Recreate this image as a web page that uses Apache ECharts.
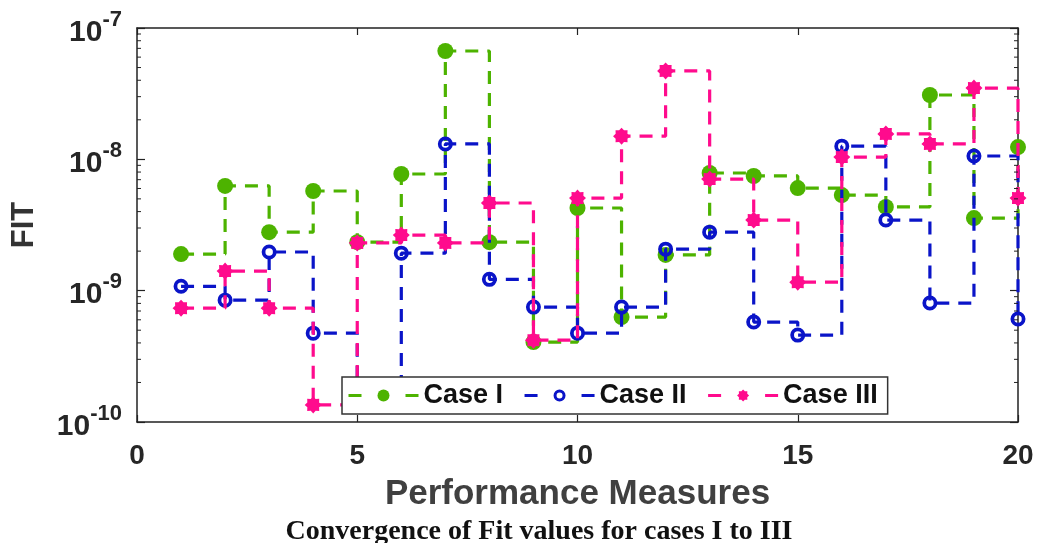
<!DOCTYPE html>
<html><head><meta charset="utf-8">
<script src="https://cdn.jsdelivr.net/npm/echarts@6/dist/echarts.min.js"></script>
<style>html,body{margin:0;padding:0;background:#fff}#c{width:1037px;height:543px}</style>
</head><body><div id="c"></div>
<script>
const xValues = [1,2,3,4,5,6,7,8,9,10,11,12,13,14,15,16,17,18,19,20];
const caseI = [1.90e-9, 6.27e-9, 2.79e-9, 5.74e-9, 2.34e-9, 7.73e-9, 6.68e-8, 2.34e-9, 4.06e-10, 4.26e-9, 6.29e-10, 1.87e-9, 7.87e-9, 7.47e-9, 6.04e-9, 5.34e-9, 4.34e-9, 3.09e-8, 3.57e-9, 1.24e-8];
const caseII = [1.08e-9, 8.47e-10, 1.97e-9, 4.75e-10, 1.5e-10, 1.93e-9, 1.31e-8, 1.22e-9, 7.5e-10, 4.75e-10, 7.5e-10, 2.07e-9, 2.79e-9, 5.77e-10, 4.59e-10, 1.26e-8, 3.45e-9, 8.05e-10, 1.06e-8, 6.08e-10];
const caseIII = [7.36e-10, 1.41e-9, 7.36e-10, 1.35e-10, 2.31e-9, 2.65e-9, 2.31e-9, 4.65e-9, 4.2e-10, 5.07e-9, 1.50e-8, 4.71e-8, 7.08e-9, 3.45e-9, 1.16e-9, 1.04e-8, 1.56e-8, 1.31e-8, 3.49e-8, 5.07e-9];
const seriesNames = ['Case I', 'Case II', 'Case III'];
const minorTickValues = [2e-10,3e-10,4e-10,5e-10,6e-10,7e-10,8e-10,9e-10,
  2e-9,3e-9,4e-9,5e-9,6e-9,7e-9,8e-9,9e-9,
  2e-8,3e-8,4e-8,5e-8,6e-8,7e-8,8e-8,9e-8];
const xLabel = 'Performance Measures';
const yLabel = 'FIT';
const captionText = 'Convergence of Fit values for cases I to III';

const G = '#4db300', B = '#0a14c8', P = '#ff0b8d', AX = '#222';
const FONT = '"Liberation Sans", Arial, sans-serif';
const star = 'path://M200 100 L169.3 128.7 L170.7 170.7 L128.7 169.3 L100 200 L71.3 169.3 L29.3 170.7 L30.7 128.7 L0 100 L30.7 71.3 L29.3 29.3 L71.3 30.7 L100 0 L128.7 30.7 L170.7 29.3 L169.3 71.3 Z';
const ring = 'path://M0 50 A50 50 0 1 1 100 50 A50 50 0 1 1 0 50 Z M25 50 A25 25 0 1 0 75 50 A25 25 0 1 0 25 50 Z';

const pairs = arr => xValues.map((x, i) => [x, arr[i]]);
const dash = [13, 9];

const chart = echarts.init(document.getElementById('c'), null, {renderer: 'canvas'});
const axisLine = {show: true, onZero: false, lineStyle: {color: AX, width: 1.5}};
const yLabelFmt = v => '{b|10}{s|' + Math.round(Math.log10(v)) + '}';

chart.setOption({
  animation: false,
  backgroundColor: '#fff',
  grid: {left: 137, right: 19, top: 28, bottom: 121, containLabel: false},
  legend: {
    data: seriesNames, left: 342, top: 377, orient: 'horizontal',
    itemWidth: 70, itemHeight: 15, itemGap: 20, padding: [5, 10, 5, 5],
    borderColor: '#333', borderWidth: 1.5, backgroundColor: '#fff',
    lineStyle: {type: [13, 44], width: 3},
    textStyle: {fontSize: 27, fontWeight: 'bold', color: '#111', fontFamily: FONT},
    z: 10
  },
  xAxis: [{
    type: 'value', min: 0, max: 20, interval: 5, position: 'bottom',
    axisLine, axisTick: {show: true, inside: true, length: 7, lineStyle: {color: AX, width: 1.2}},
    axisLabel: {fontSize: 28, fontWeight: 'bold', color: '#262626', margin: 20, fontFamily: FONT},
    splitLine: {show: false},
    name: xLabel, nameLocation: 'middle', nameGap: 55,
    nameTextStyle: {fontSize: 35, fontWeight: 'bold', color: '#404040', fontFamily: FONT}
  }, {
    type: 'value', min: 0, max: 20, interval: 5, position: 'top',
    axisLine, axisTick: {show: true, inside: true, length: 7, lineStyle: {color: AX, width: 1.2}},
    axisLabel: {show: false}, splitLine: {show: false}
  }],
  yAxis: [{
    type: 'log', logBase: 10, min: 1e-10, max: 1e-7, position: 'left',
    axisLine, axisTick: {show: true, inside: true, length: 8, lineStyle: {color: AX, width: 1.2}},
    axisLabel: {
      formatter: yLabelFmt, margin: 15, color: '#262626',
      rich: {
        b: {fontSize: 30, fontWeight: 'bold', fontFamily: FONT, color: '#262626', verticalAlign: 'bottom'},
        s: {fontSize: 22, fontWeight: 'bold', fontFamily: FONT, color: '#262626', verticalAlign: 'bottom', padding: [0, 0, 17, 0]}
      }
    },
    splitLine: {show: false},
    name: yLabel, nameLocation: 'middle', nameGap: 97, nameRotate: 90,
    nameTextStyle: {fontSize: 31, fontWeight: 'bold', color: '#333', fontFamily: FONT}
  }, {
    type: 'log', logBase: 10, min: 1e-10, max: 1e-7, position: 'right',
    axisLine, axisTick: {show: true, inside: true, length: 8, lineStyle: {color: AX, width: 1.2}},
    axisLabel: {show: false}, splitLine: {show: false}
  }],
  graphic: [{
    type: 'text', x: 539, y: 518,
    style: {text: captionText, font: 'bold 28px "Liberation Serif", "Times New Roman", serif',
      fill: '#111', textAlign: 'center', textVerticalAlign: 'top', align: 'center', verticalAlign: 'top'}
  }],
  series: [
    {
      name: 'Case I', type: 'line', step: 'end', data: pairs(caseI),
      symbol: 'circle', symbolSize: 16, showAllSymbol: true,
      lineStyle: {color: G, width: 3.2, type: dash}, itemStyle: {color: G}, z: 2
    },
    {
      name: 'Case II', type: 'line', step: 'end', data: pairs(caseII),
      symbol: ring, symbolSize: 15, showAllSymbol: true,
      lineStyle: {color: B, width: 3.2, type: dash}, itemStyle: {color: B}, z: 3
    },
    {
      name: 'Case III', type: 'line', step: 'end', data: pairs(caseIII),
      symbol: star, symbolSize: 17, showAllSymbol: true,
      lineStyle: {color: P, width: 3.2, type: dash}, itemStyle: {color: P}, z: 4
    },
    {
      type: 'custom', name: 'minorTicks', silent: true, xAxisIndex: 0, yAxisIndex: 0, z: 5, clip: false,
      data: minorTickValues.map(v => [0, v]),
      renderItem: (params, api) => {
        const v = api.value(1);
        const pl = api.coord([0, v]);
        const pr = api.coord([20, v]);
        return {type: 'group', children: [
          {type: 'line', shape: {x1: pl[0], y1: pl[1], x2: pl[0] + 4, y2: pl[1]}, style: {stroke: AX, lineWidth: 1}},
          {type: 'line', shape: {x1: pr[0], y1: pr[1], x2: pr[0] - 4, y2: pr[1]}, style: {stroke: AX, lineWidth: 1}}
        ]};
      }
    }
  ]
});
</script></body></html>
